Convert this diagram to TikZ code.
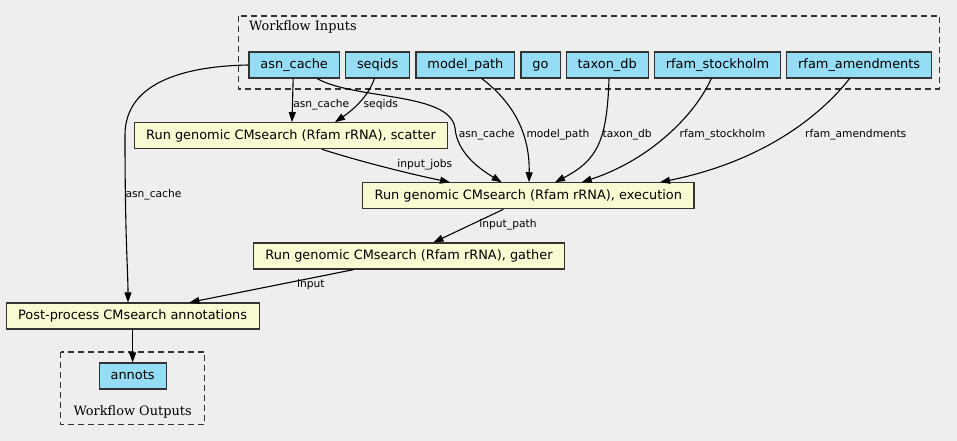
\documentclass[tikz,border=0pt]{standalone}
\usepackage{fontspec}
\setmainfont{DejaVu Sans}
\newfontfamily\clusterfont{DejaVu Serif}
\usetikzlibrary{arrows.meta, positioning}

\definecolor{bgcol}{HTML}{EEEEEE}
\definecolor{inputcol}{HTML}{94DDF5}
\definecolor{stepcol}{HTML}{FAFAD2}
\definecolor{linecol}{HTML}{333333}

\begin{document}
\begin{tikzpicture} [
						x=1pt, y=-1pt,
						node distance=5pt,
						>={Triangle[length=10pt, width=7pt]},
						box/.style={draw=linecol, line width=1.1pt, rectangle, minimum height=26pt, inner xsep=11.5pt, inner ysep=0pt, text height=9.8pt, text depth=3.1pt, font=\fontsize{12.9}{15}\selectfont},
						inbox/.style={box, fill=inputcol},
						stepbox/.style={box, fill=stepcol, inner xsep=12pt},
						elabel/.style={font=\fontsize{10.7}{12}\selectfont, text height=7.9pt, text depth=2.5pt, inner sep=0pt},
						cluster/.style={draw=linecol, line width=1.1pt, dash pattern=on 6pt off 4pt},
						conn/.style={->, line width=1.1pt}
					]

\fill[bgcol] (0,0) rectangle (957,441);
\useasboundingbox (0,0) rectangle (957,441);

\draw[cluster] (238.3,16) rectangle (939.4,89);
\node (inlabel) [anchor=base west, inner sep=0pt, font=\clusterfont\fontsize{12.9}{15}\selectfont] at (249,30.7) {Workflow Inputs};
\draw[cluster] (60.8,352) rectangle (204.7,424.7);
\node (outlabel) [anchor=base, inner sep=0pt, font=\clusterfont\fontsize{12.9}{15}\selectfont] at (132.6,415.5) {Workflow Outputs};

\node (asn_cache) [inbox, anchor=west] at (248.4,65) {asn\_cache};
\node (seqids) [inbox, right=of asn_cache] {seqids};
\node (model_path) [inbox, right=of seqids] {model\_path};
\node (go) [inbox, right=of model_path] {go};
\node (taxon_db) [inbox, right=of go] {taxon\_db};
\node (rfam_stockholm) [inbox, right=of taxon_db] {rfam\_stockholm};
\node (rfam_amendments) [inbox, right=of rfam_stockholm] {rfam\_amendments};

\node (scatter) [stepbox] at (291,135.7) {Run genomic CMsearch (Rfam rRNA), scatter};
\node (execution) [stepbox] at (528.3,195.8) {Run genomic CMsearch (Rfam rRNA), execution};
\node (gather) [stepbox] at (409,256) {Run genomic CMsearch (Rfam rRNA), gather};
\node (postprocess) [stepbox] at (132.6,316) {Post-process CMsearch annotations};
\node (annots) [inbox] at (132.6,376) {annots};

\draw[conn] (asn_cache.west) .. controls (190,66) and (125,80) .. (125,135)
	.. controls (125,240) and (128,270) .. ([xshift=-4.6pt]postprocess.north)
	node[elabel] at (153.5,195) {asn\_cache};
\draw[conn] ([xshift=-1pt]asn_cache.south) -- ([xshift=1pt]scatter.north)
	node[elabel] at (321.3,104.3) {asn\_cache};
\draw[conn] ([xshift=-3.3pt]seqids.south) .. controls (368,98) and (350,112) .. ([xshift=44pt]scatter.north)
	node[elabel] at (380.8,104.3) {seqids};
\draw[conn] ([xshift=22.9pt]asn_cache.south) .. controls (355,100) and (450,92) .. (455,128)
	.. controls (457,152) and (478,168) .. ([xshift=-26.6pt]execution.north)
	node[elabel] at (486.8,134.3) {asn\_cache};
\draw[conn] ([xshift=30.7pt]scatter.south) .. controls (365,163) and (415,175) .. ([xshift=-78.3pt]execution.north)
	node[elabel] at (424.8,165) {input\_jobs};
\draw[conn] ([xshift=16.3pt]model_path.south) .. controls (510,100) and (530,130) .. ([xshift=0.7pt]execution.north)
	node[elabel] at (558,134.3) {model\_path};
\draw[conn] ([xshift=1.8pt]taxon_db.south) .. controls (607,140) and (598,160) .. ([xshift=26.7pt]execution.north)
	node[elabel] at (627.2,134.3) {taxon\_db};
\draw[conn] ([xshift=-6.2pt]rfam_stockholm.south) .. controls (695,115) and (650,160) .. ([xshift=53.4pt]execution.north)
	node[elabel] at (722.5,134.3) {rfam\_stockholm};
\draw[conn] ([xshift=-9.6pt]rfam_amendments.south) .. controls (825,110) and (770,160) .. ([xshift=131.7pt]execution.north)
	node[elabel] at (855.7,134.3) {rfam\_amendments};

\draw[conn] ([xshift=-25pt]execution.south) -- ([xshift=24.4pt]gather.north)
	node[elabel] at (508,224.3) {input\_path};
\draw[conn] ([xshift=-55pt]gather.south) -- ([xshift=56.8pt]postprocess.north)
	node[elabel] at (310.8,284.3) {input};
\draw[conn] (postprocess.south) -- (annots.north);

\end{tikzpicture}
\end{document}
